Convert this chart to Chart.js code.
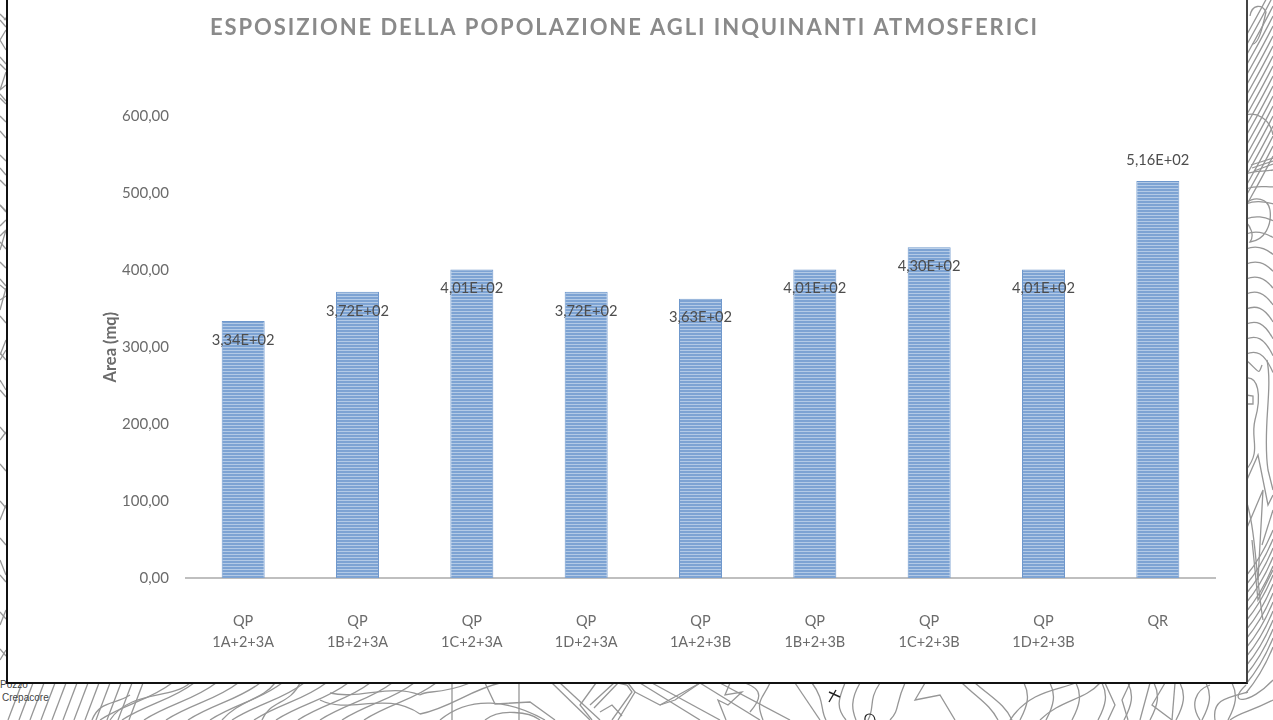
<!DOCTYPE html>
<html>
<head>
<meta charset="utf-8">
<title>Esposizione della popolazione agli inquinanti atmosferici</title>
<script src="https://cdn.jsdelivr.net/npm/chart.js@4"></script>
<style>
    html, body { margin: 0; padding: 0; background: #fff; overflow: hidden; }
    #map { position: absolute; left: 0; top: 0; }
    #panel {
        position: absolute; left: 6px; top: -3px; width: 1238px; height: 683px;
        background: #fff; border: 2px solid #111; border-right-color: #444;
    }
    #chart { position: absolute; left: 8px; top: 0; }
</style>
</head>
<body>
<svg id="map" width="1273" height="720" fill="none" stroke="#969696" stroke-width="1.3">
    <g id="contours"></g>
    <text x="0" y="688" font-family="Liberation Sans" font-size="10" fill="#444" stroke="none">Pozzo</text>
    <text x="2" y="701" font-family="Liberation Sans" font-size="10" fill="#444" stroke="none">Crepacore</text>
    <path d="M829 702 L836 690 M829 692 L840 697" stroke="#222" stroke-width="1.4"/>
    <path d="M865 720 C864 712 874 712 875 720" stroke="#222" stroke-width="1.2"/>
</svg>
<div id="panel"></div>
<canvas id="chart" width="1236" height="681"></canvas>

<script>
const titleText = 'ESPOSIZIONE DELLA POPOLAZIONE AGLI INQUINANTI ATMOSFERICI';
const axisTitle = 'Area (mq)';
const categories = [
    ['QP', '1A+2+3A'], ['QP', '1B+2+3A'], ['QP', '1C+2+3A'], ['QP', '1D+2+3A'],
    ['QP', '1A+2+3B'], ['QP', '1B+2+3B'], ['QP', '1C+2+3B'], ['QP', '1D+2+3B'], 'QR'
];
const areaValues = [334, 372, 401, 372, 363, 401, 430, 401, 516];

// background map, just contour lines around the panel
const mapPaths = [
    'M190 683 C170 700 130 690 110 720', 'M275 683 C262 700 240 700 222 720',
    'M300 683 C290 705 270 700 262 720', 'M130 695 C115 705 100 700 92 720',
    'M420 695 C390 683 360 700 330 693', 'M420 714 C385 690 350 715 320 700',
    'M470 683 C440 695 425 690 420 695', 'M500 683 C470 690 450 708 420 714',
    'M452 683 L452 720', 'M519 683 L519 720', 'M485 683 L495 704 L530 702 L555 720',
    'M440 720 C470 695 510 700 545 720', 'M485 720 C500 708 530 712 540 720',
    'M552 683 L590 720', 'M560 683 L600 720',
    'M596 683 L580 705 L592 720', 'M590 705 L614 683 L628 683 L635 692 L618 720',
    'M594 708 L618 683 L627 685 L632 692 L612 720', 'M600 712 L612 705 L622 716',
    'M640 683 L700 720', 'M652 683 L720 720', 'M635 692 L660 705 L700 683',
    'M700 683 L675 700 L660 705', 'M700 683 L760 720', 'M720 683 L790 720',
    'M730 683 L725 695 L742 692 L728 705 L718 700 L726 720',
    'M745 683 C765 690 760 700 750 712', 'M770 683 C762 700 755 700 763 720',
    'M795 683 L820 720', 'M812 683 C825 700 820 710 826 720', 'M845 683 C838 700 836 708 846 720',
    'M860 683 C850 700 852 710 856 720', 'M880 683 C868 700 875 708 868 720',
    'M905 683 C895 705 900 710 890 720', 'M925 683 L915 700 L940 695 L955 720',
    'M962 683 C980 700 990 705 998 720', 'M975 683 C995 700 1005 705 1012 720',
    'M1010 720 C1030 690 1060 690 1075 683', 'M1040 720 C1060 700 1085 700 1100 683',
    'M1105 683 L1115 705 L1108 720', 'M1130 683 L1122 700 L1128 720', 'M1150 683 L1140 720',
    'M1165 683 L1152 705 L1172 720', 'M1175 683 L1172 720', 'M1210 685 C1195 690 1190 705 1200 720',
    'M1248 692 C1225 698 1212 700 1215 720', 'M1273 700 C1250 712 1240 712 1230 720',
    'M1273 680 C1250 705 1225 705 1246 685',
    'M1246 360 C1260 372 1258 376 1262 365', 'M1246 378 C1258 376 1262 395 1255 420 C1250 440 1262 450 1246 470',
    'M1246 395 L1253 396 L1253 404 L1246 404', 'M1267 360 C1273 390 1262 430 1268 470 L1273 490',
    'M1246 482 L1258 455 L1268 505 L1273 495', 'M1246 530 L1263 490 L1258 580',
    'M1246 500 C1256 530 1256 580 1263 620', 'M1262 545 L1273 510', 'M1252 540 L1258 600 L1273 570',
    'M1246 203 C1255 196 1268 198 1270 210 C1272 225 1265 240 1250 242 C1255 235 1250 226 1246 222',
    'M1250 16 C1252 4 1262 4 1266 12 C1262 30 1258 45 1252 44', 'M1246 115 C1256 112 1270 118 1273 135',
    'M1251 165 L1273 158', 'M1252 168 L1273 161', 'M1254 171 L1273 164',
    'M14 10 L4 20', 'M0 14 L6 20', 'M6 30 L0 40 L6 50', 'M0 64 L6 70', 'M6 72 L0 90 L6 85', 'M0 98 L6 104',
    'M0 116 L6 122', 'M0 155 L6 161', 'M0 180 L6 186', 'M0 205 L6 211', 'M0 226 L6 220 M0 236 L6 230 L0 250',
    'M0 262 L6 268', 'M0 285 L6 290', 'M6 288 L0 310', 'M0 300 L6 296 M0 355 L6 340 M6 350 L0 360',
    'M0 380 L6 390', 'M0 440 L6 432', 'M0 520 L6 505', 'M0 560 L6 575', 'M0 625 L6 610', 'M0 660 L6 650'
];

function buildContours() {
    const paths = mapPaths.slice();
    // diagonal hatch on the top right
    for (let y = 0; y < 180; y += 10) {
        paths.push(`M1246 ${y + 36} C1256 ${y + 18} 1264 ${y + 4} 1273 ${y - 14}`);
    }
    // flat lines on the right, around y 200-360
    for (let y = 170; y < 360; y += 15) {
        paths.push(`M1246 ${y + 4} C1256 ${y} 1264 ${y + 2} 1273 ${y + (y - 170) / 8}`);
    }
    // diagonals lower right
    for (let y = 560; y < 684; y += 9) {
        paths.push(`M1246 ${y + 16} C1256 ${y + 4} 1264 ${y - 8} 1273 ${y - 30}`);
    }
    // left side, more of the map showing through
    for (let y = 20; y < 680; y += 37) {
        paths.push(`M0 ${y} L6 ${y + 7}`);
    }
    // steep lines on the bottom left
    for (let x = 8; x < 130; x += 11) {
        paths.push(`M${x} 720 L${x + 14} 683`);
    }
    // long diagonals bottom, x 200-420
    for (let x = 150; x < 420; x += 22) {
        paths.push(`M${x - 50} 720 C${x - 25} 704 ${x} 700 ${x + 22} 683`);
    }
    // and on the right part of the bottom strip
    for (let x = 1020; x < 1240; x += 26) {
        paths.push(`M${x} 720 C${x + 8} 705 ${x + 10} 695 ${x + 4} 683`);
    }
    document.getElementById('contours').innerHTML = paths.map(d => `<path d="${d}"/>`).join('');
}
buildContours();

// horizontal stripes of the bars
function stripePattern(ctx) {
    const tile = document.createElement('canvas');
    tile.width = 4;
    tile.height = 3;
    const t = tile.getContext('2d');
    t.fillStyle = '#7da3d3';
    t.fillRect(0, 0, 4, 3);
    t.fillStyle = '#b3cae6';
    t.fillRect(0, 2, 4, 1);
    return ctx.createPattern(tile, 'repeat');
}

function sciLabel(v) {
    const [m, e] = v.toExponential(2).split('e+');
    return m.replace('.', ',') + 'E+' + e.padStart(2, '0');
}

// value labels: inside the bar top, except the last one that sits above
const valueLabels = {
    id: 'valueLabels',
    afterDatasetsDraw(chart) {
        const { ctx } = chart;
        const bars = chart.getDatasetMeta(0).data;
        ctx.save();
        ctx.font = '14.7px Lato';
        ctx.fillStyle = '#4d4d4d';
        ctx.textAlign = 'center';
        ctx.textBaseline = 'middle';
        bars.forEach((bar, i) => {
            const dy = i === bars.length - 1 ? -21 : 19;
            ctx.fillText(sciLabel(areaValues[i]), bar.x, bar.y + dy);
        });
        ctx.restore();
    }
};

// title is letter-spaced in the original
const spacedTitle = {
    id: 'spacedTitle',
    afterLayout(chart) {
        const block = chart.titleBlock;
        if (block.spaced) return;
        const draw = block.draw;
        block.draw = function () {
            chart.ctx.letterSpacing = '1.93px';
            draw.call(block);
            chart.ctx.letterSpacing = '0px';
        };
        block.spaced = true;
    }
};

const canvas = document.getElementById('chart');
new Chart(canvas, {
    type: 'bar',
    data: {
        labels: categories,
        datasets: [{
            data: areaValues,
            backgroundColor: stripePattern(canvas.getContext('2d')),
            borderColor: '#6f98cc',
            borderWidth: { left: 1, right: 1, top: 1, bottom: 0 },
            barPercentage: 0.376,
            categoryPercentage: 1
        }]
    },
    plugins: [valueLabels, spacedTitle],
    options: {
        responsive: false,
        animation: false,
        layout: { padding: { left: 26, right: 29, top: 0, bottom: 0 } },
        plugins: {
            legend: { display: false },
            tooltip: { enabled: false },
            title: {
                display: true,
                text: titleText,
                color: '#8a8a8a',
                font: { family: 'Lato', size: 22, weight: 'bold' },
                padding: { top: 15, bottom: 75 }
            }
        },
        scales: {
            x: {
                grid: { display: false },
                border: { color: '#bfbfbf', width: 2 },
                afterFit(scale) { scale.height = 103; },
                ticks: {
                    color: '#6b6b6b',
                    font: { family: 'Lato', size: 14.5, lineHeight: 1.45 },
                    padding: 25,
                    autoSkip: false,
                    maxRotation: 0
                }
            },
            y: {
                min: 0,
                max: 600,
                grid: { display: false },
                border: { display: false },
                afterFit(scale) { scale.width = 152; },
                title: {
                    display: true,
                    text: axisTitle,
                    color: '#6b6b6b',
                    font: { family: 'Lato', size: 16.5, weight: 'bold' },
                    padding: { top: 67, bottom: 0 }
                },
                ticks: {
                    stepSize: 100,
                    color: '#6b6b6b',
                    font: { family: 'Lato', size: 15 },
                    padding: 9,
                    callback: v => v.toFixed(2).replace('.', ',')
                }
            }
        }
    }
});
</script>
</body>
</html>
